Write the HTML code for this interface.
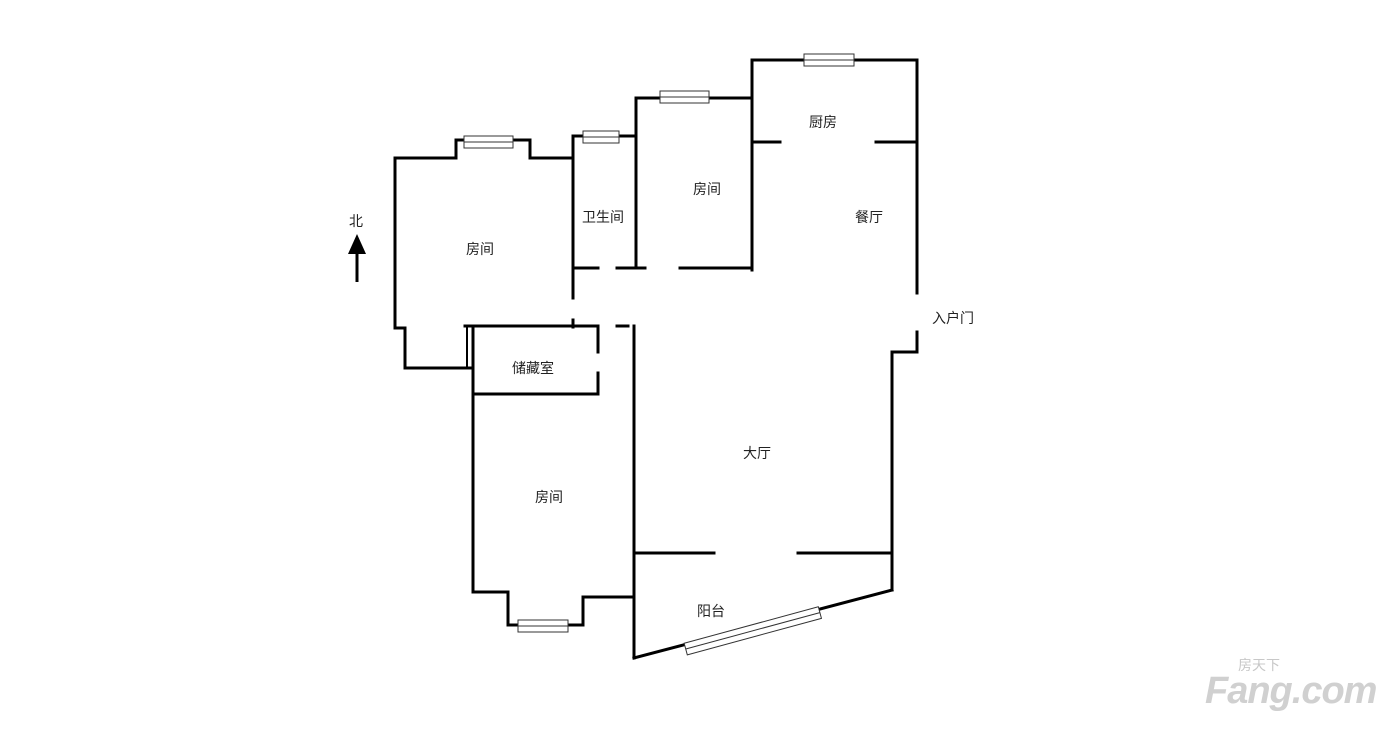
<!DOCTYPE html>
<html><head><meta charset="utf-8"><style>
body{margin:0;background:#fff;width:1400px;height:730px;overflow:hidden}
svg{display:block}
text{font-family:"Liberation Sans","Noto Sans CJK SC",sans-serif;font-size:14px;fill:#222}
</style></head><body>
<svg width="1400" height="730" viewBox="0 0 1400 730">
<g stroke="#000" stroke-width="3" fill="none" stroke-linecap="square">
<polyline points="395,328 395,158 456,158 456,140 530,140 530,158 573,158"/>
<polyline points="395,328 405,328 405,368 472,368"/>
<polyline points="573,298 573,136 636,136"/>
<line x1="573" y1="320" x2="573" y2="327"/>
<polyline points="636,268 636,98 752,98"/>
<polyline points="752,270 752,60 917,60 917,293"/>
<line x1="752" y1="142" x2="780" y2="142"/>
<line x1="876" y1="142" x2="917" y2="142"/>
<line x1="573" y1="268" x2="598" y2="268"/>
<line x1="617" y1="268" x2="645" y2="268"/>
<line x1="680" y1="268" x2="752" y2="268"/>
<line x1="465" y1="326" x2="598" y2="326"/>
<line x1="617" y1="326" x2="628" y2="326"/>
<line x1="467" y1="326" x2="467" y2="368" stroke-width="2"/>
<line x1="473" y1="326" x2="473" y2="592"/>
<line x1="473" y1="394" x2="598" y2="394"/>
<line x1="598" y1="326" x2="598" y2="352"/>
<line x1="598" y1="373" x2="598" y2="394"/>
<line x1="634" y1="326" x2="634" y2="658"/>
<polyline points="917,332 917,352 892,352 892,590"/>
<line x1="634" y1="553" x2="714" y2="553"/>
<line x1="798" y1="553" x2="892" y2="553"/>
<polyline points="473,592 508,592 508,625 583,625 583,597 634,597"/>
<line x1="634" y1="658" x2="892" y2="590"/>
</g>
<g stroke="#333" stroke-width="1" fill="#fff">
<rect x="464" y="136" width="49" height="12"/><line x1="464" y1="142" x2="513" y2="142"/>
<rect x="583" y="131" width="36" height="12"/><line x1="583" y1="137" x2="619" y2="137"/>
<rect x="660" y="91" width="49" height="12"/><line x1="660" y1="97" x2="709" y2="97"/>
<rect x="804" y="54" width="50" height="12"/><line x1="804" y1="60" x2="854" y2="60"/>
<rect x="518" y="620" width="50" height="12"/><line x1="518" y1="626" x2="568" y2="626"/>
<g transform="translate(686,650) rotate(-15.2)">
<rect x="0" y="-7" width="139" height="12"/><line x1="0" y1="-1" x2="139" y2="-1"/>
</g>
</g>
<text x="466" y="254">房间</text>
<text x="582" y="222">卫生间</text>
<text x="693" y="194">房间</text>
<text x="809" y="127">厨房</text>
<text x="855" y="222">餐厅</text>
<text x="932" y="323">入户门</text>
<text x="512" y="373">储藏室</text>
<text x="743" y="458">大厅</text>
<text x="535" y="502">房间</text>
<text x="697" y="616">阳台</text>
<text x="349" y="226">北</text>
<line x1="357" y1="250" x2="357" y2="282" stroke="#000" stroke-width="3"/>
<polygon points="357,234 348,254 366,254" fill="#000"/>
<text x="1205" y="703" style="font-size:38px;font-weight:bold;font-style:italic;fill:#d0d0d0;letter-spacing:-1px">Fang.com</text>
<text x="1238" y="670" style="font-size:14px;fill:#c8c8c8">房天下</text>
</svg>
</body></html>
